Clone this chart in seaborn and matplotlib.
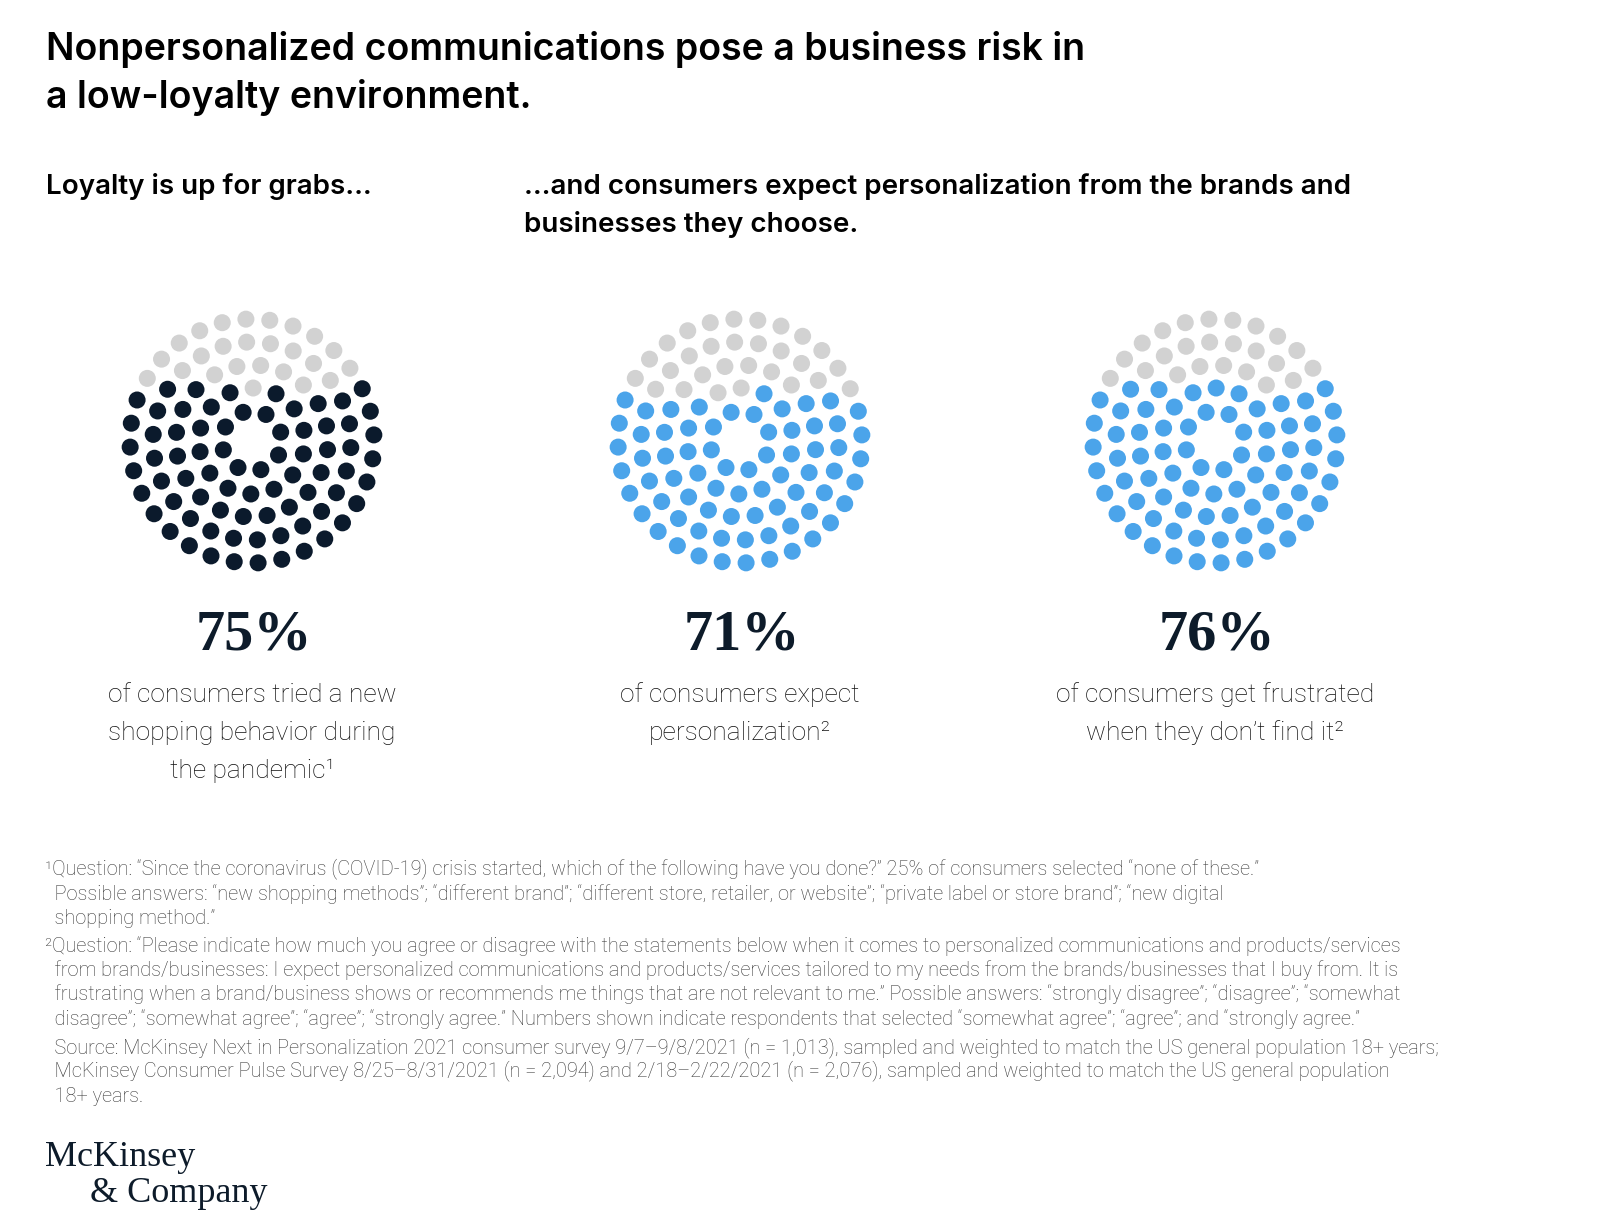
import numpy as np
import pandas as pd
import matplotlib
matplotlib.use("Agg")
import matplotlib.pyplot as plt
import seaborn as sns

# values
percents = [75, 71, 76]
dot_colors = ["#0b1a2c", "#4ba4ea", "#4ba4ea"]
empty_color = "#d2d2d2"
big_labels = ["75%", "71%", "76%"]
descriptions = [
    ["of consumers tried a new", "shopping behavior during", "the pandemic\u00b9"],
    ["of consumers expect", "personalization\u00b2"],
    ["of consumers get frustrated", "when they don\u2019t find it\u00b2"],
]
title_lines = ["Nonpersonalized communications pose a business risk in",
               "a low-loyalty environment."]
sub_left = ["Loyalty is up for grabs\u2026"]
sub_right = ["\u2026and consumers expect personalization from the brands and",
             "businesses they choose."]
footnotes = [
    "\u00b9Question: \u201cSince the coronavirus (COVID-19) crisis started, which of the following have you done?\u201d 25% of consumers selected \u201cnone of these.\u201d",
    "  Possible answers: \u201cnew shopping methods\u201d; \u201cdifferent brand\u201d; \u201cdifferent store, retailer, or website\u201d; \u201cprivate label or store brand\u201d; \u201cnew digital",
    "  shopping method.\u201d",
    "\u00b2Question: \u201cPlease indicate how much you agree or disagree with the statements below when it comes to personalized communications and products/services",
    "  from brands/businesses: I expect personalized communications and products/services tailored to my needs from the brands/businesses that I buy from. It is",
    "  frustrating when a brand/business shows or recommends me things that are not relevant to me.\u201d Possible answers: \u201cstrongly disagree\u201d; \u201cdisagree\u201d; \u201csomewhat",
    "  disagree\u201d; \u201csomewhat agree\u201d; \u201cagree\u201d; \u201cstrongly agree.\u201d Numbers shown indicate respondents that selected \u201csomewhat agree\u201d; \u201cagree\u201d; and \u201cstrongly agree.\u201d",
    "  Source: McKinsey Next in Personalization 2021 consumer survey 9/7\u20139/8/2021 (n = 1,013), sampled and weighted to match the US general population 18+ years;",
    "  McKinsey Consumer Pulse Survey 8/25\u20138/31/2021 (n = 2,094) and 2/18\u20132/22/2021 (n = 2,076), sampled and weighted to match the US general population",
    "  18+ years.",
]

# dot layout: 100 dots on concentric rings
ring_radius = [30, 53, 76, 99, 122]
ring_count = [8, 14, 20, 26, 32]
ring_phase = [0.3, 1.1, 0.2, 0.9, 0.05]

xs, ys = [], []
for r, n, ph in zip(ring_radius, ring_count, ring_phase):
    ang = ph + np.arange(n) * 2 * np.pi / n
    xs += list(r * np.cos(ang))
    ys += list(r * np.sin(ang))
dots = pd.DataFrame({"x": xs, "y": ys})
dots["rank"] = dots["y"].rank(ascending=True, method="first")

W, H = 1600, 1224
sns.set_theme(style="white")
plt.rcParams["font.family"] = ["Roboto", "DejaVu Sans"]
fig = plt.figure(figsize=(W / 100, H / 100), dpi=100)
fig.patch.set_facecolor("white")


def fx(px):
    return px / W


def fy(py):
    return 1 - py / H


def put_lines(lines, x, ys_, **kw):
    for line, yy in zip(lines, ys_):
        fig.text(fx(x), fy(yy), line, va="center", **kw)


centers_x = [252, 740, 1215]
center_y = 441
half = 150

for i, pct in enumerate(percents):
    cx = centers_x[i]
    ax = fig.add_axes([fx(cx - half), fy(center_y + half), 2 * half / W, 2 * half / H])
    d = dots.copy()
    d["filled"] = d["rank"] <= pct
    sns.scatterplot(data=d, x="x", y="y", hue="filled",
                    palette={True: dot_colors[i], False: empty_color},
                    s=150, linewidth=0, legend=False, ax=ax)
    ax.set_xlim(-half, half)
    ax.set_ylim(-half, half)
    ax.axis("off")

    fig.text(fx(cx + 2), fy(635), big_labels[i], ha="center", va="center",
             fontsize=42, fontweight="bold", family=["Liberation Serif"], color="#0d1b2a")
    put_lines(descriptions[i], cx, [695, 733, 771], ha="center",
              fontsize=19, fontweight="light", color="#111111")

head = dict(ha="left", fontweight="semibold", family=["Inter", "DejaVu Sans"], color="#000000")
put_lines(title_lines, 46, [49, 97], fontsize=27, **head)
put_lines(sub_left, 46, [187], fontsize=20, **head)
put_lines(sub_right, 524, [187, 225], fontsize=20, **head)

foot_y = [869, 894, 918, 946, 970, 994, 1019, 1048, 1071, 1096]
put_lines(footnotes, 45, foot_y, ha="left", fontsize=14.4,
          fontweight="light", color="#3a3a3a")

logo = dict(ha="left", fontsize=26, family=["Liberation Serif"], color="#0d1b2a")
put_lines(["McKinsey"], 45, [1158], **logo)
put_lines(["& Company"], 90, [1194], **logo)

fig.savefig("out.png", dpi=100, facecolor="white")
